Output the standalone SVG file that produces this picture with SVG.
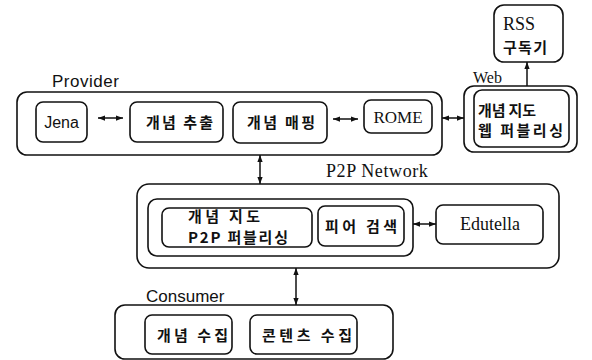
<svg xmlns="http://www.w3.org/2000/svg" width="592" height="360" viewBox="0 0 592 360">
<style>
  .box { fill: none; stroke: #111; stroke-width: 1.6; }
  .con { fill: none; stroke: #111; stroke-width: 1.5; }
  .ko { font-family: "Noto Sans CJK KR", "Noto Sans", sans-serif; font-size: 15px; font-weight: bold; fill: #111; }
  .sans { font-family: "Liberation Sans", Arial, sans-serif; fill: #111; }
  .serif { font-family: "Liberation Serif", "Times New Roman", serif; fill: #111; }
</style>
<defs>
  <marker id="ah" viewBox="0 0 8 6" refX="8" refY="3" markerWidth="7" markerHeight="5.5" orient="auto-start-reverse" markerUnits="userSpaceOnUse">
    <path d="M0,0 L8,3 L0,6 z" fill="#111"/>
  </marker>
</defs>
<rect width="592" height="360" fill="#fff"/>

<g id="provider">
  <rect class="box" x="17" y="92" width="425" height="63" rx="10"/>
  <text class="sans" x="52" y="87" font-size="17" letter-spacing="0.5">Provider</text>
</g>
<g id="jena">
  <rect class="box" x="36" y="102" width="51" height="40" rx="7"/>
  <text class="sans" x="61.5" y="128" font-size="16" text-anchor="middle">Jena</text>
</g>
<g id="concept-extract">
  <rect class="box" x="130" y="102" width="93" height="40" rx="7"/>
  <text class="ko" x="146" y="128" textLength="67" lengthAdjust="spacing">개념 추출</text>
</g>
<g id="concept-mapping">
  <rect class="box" x="233" y="102" width="94" height="41" rx="7"/>
  <text class="ko" x="247" y="128" textLength="68" lengthAdjust="spacing">개념 매핑</text>
</g>
<g id="rome">
  <rect class="box" x="364" y="100" width="68" height="33" rx="7"/>
  <text class="serif" x="398" y="123" font-size="17" text-anchor="middle">ROME</text>
</g>
<g id="web">
  <rect class="box" x="464" y="86" width="113" height="66" rx="10"/>
  <rect class="box" x="474" y="90" width="95" height="57" rx="8"/>
  <text class="serif" x="473" y="83" font-size="16">Web</text>
  <text class="ko" x="478" y="115.5" textLength="58" lengthAdjust="spacing">개념 지도</text>
  <text class="ko" x="478" y="135.5" textLength="85" lengthAdjust="spacing">웹 퍼블리싱</text>
</g>
<g id="rss">
  <rect class="box" x="494" y="5" width="69" height="57" rx="10"/>
  <text class="serif" x="503" y="30" font-size="18">RSS</text>
  <text class="ko" x="503" y="53" textLength="44" lengthAdjust="spacing">구독기</text>
</g>

<g id="p2p-network">
  <rect class="box" x="137" y="184" width="422" height="84" rx="12"/>
  <text class="serif" x="326" y="177" font-size="18" letter-spacing="0.6">P2P Network</text>
  <rect class="box" x="148" y="199" width="265" height="57" rx="9"/>
</g>
<g id="p2p-publishing">
  <rect class="box" x="162" y="208" width="150" height="39" rx="7"/>
  <text class="ko" x="188" y="222" textLength="72" lengthAdjust="spacing">개념 지도</text>
  <text class="ko" x="188" y="243" textLength="100" lengthAdjust="spacing">P2P 퍼블리싱</text>
</g>
<g id="peer-search">
  <rect class="box" x="318" y="206" width="86" height="40" rx="7"/>
  <text class="ko" x="325" y="231.5" textLength="72" lengthAdjust="spacing">피어 검색</text>
</g>
<g id="edutella">
  <rect class="box" x="436" y="205" width="107" height="39" rx="7"/>
  <text class="serif" x="490" y="230" font-size="18" text-anchor="middle">Edutella</text>
</g>

<g id="consumer">
  <rect class="box" x="115" y="305" width="278" height="54" rx="10"/>
  <text class="sans" x="146" y="302" font-size="17">Consumer</text>
</g>
<g id="concept-collect">
  <rect class="box" x="145" y="315" width="87" height="39" rx="7"/>
  <text class="ko" x="157" y="341" textLength="71" lengthAdjust="spacing">개념 수집</text>
</g>
<g id="content-collect">
  <rect class="box" x="250" y="315" width="107" height="39" rx="7"/>
  <text class="ko" x="262" y="341" textLength="90" lengthAdjust="spacing">콘텐츠 수집</text>
</g>

<g id="connectors">
  <line class="con" x1="98" y1="118" x2="123" y2="118" marker-start="url(#ah)" marker-end="url(#ah)"/>
  <line class="con" x1="333" y1="119" x2="358" y2="119" marker-start="url(#ah)" marker-end="url(#ah)"/>
  <line class="con" x1="442" y1="118" x2="464" y2="118" marker-start="url(#ah)" marker-end="url(#ah)"/>
  <line class="con" x1="527" y1="86" x2="527" y2="62" marker-end="url(#ah)"/>
  <line class="con" x1="260" y1="155" x2="260" y2="184" marker-start="url(#ah)" marker-end="url(#ah)"/>
  <line class="con" x1="413" y1="224" x2="436" y2="224" marker-start="url(#ah)" marker-end="url(#ah)"/>
  <line class="con" x1="296" y1="268" x2="296" y2="305" marker-start="url(#ah)" marker-end="url(#ah)"/>
</g>
</svg>
